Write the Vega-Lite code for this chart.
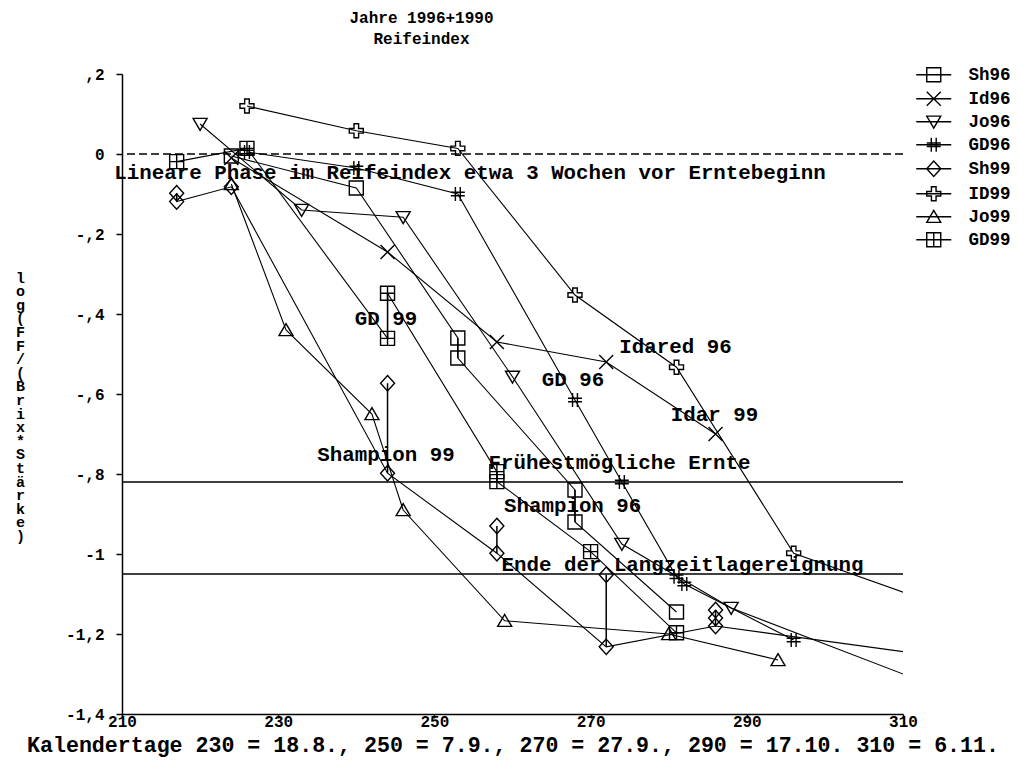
{
  "$schema": "https://vega.github.io/schema/vega-lite/v6.json",
  "width": 781,
  "height": 640,
  "autosize": {"type": "none"},
  "padding": {"left": 122, "top": 74, "right": 116, "bottom": 48},
  "background": "white",
  "title": {"text": ["Jahre 1996+1990", "Reifeindex"], "font": "Liberation Mono", "fontSize": 16, "fontWeight": "bold", "color": "black", "anchor": "middle", "dx": -91, "offset": 19, "lineHeight": 21},
  "config": {
    "view": {"stroke": null},
    "axis": {"grid": false, "domainColor": "black", "domainWidth": 1.5, "tickColor": "black", "tickWidth": 1.5, "labelColor": "black", "titleColor": "black", "labelFont": "Liberation Mono", "labelFontWeight": "bold", "labelFontSize": 16, "titleFont": "Liberation Mono", "titleFontWeight": "bold"}
  },
  "resolve": {"scale": {"shape": "independent"}, "legend": {"shape": "independent"}},
  "datasets": {
    "pts": [
      {"s": "Sh96", "d": 224, "v": -0.005, "o": 1, "m": 1},
      {"s": "Sh96", "d": 240, "v": -0.085, "o": 2, "m": 1},
      {"s": "Sh96", "d": 253, "v": -0.46, "o": 3, "m": 1},
      {"s": "Sh96", "d": 253, "v": -0.51, "o": 4, "m": 1},
      {"s": "Sh96", "d": 268, "v": -0.84, "o": 5, "m": 1},
      {"s": "Sh96", "d": 268, "v": -0.92, "o": 6, "m": 1},
      {"s": "Sh96", "d": 281, "v": -1.145, "o": 7, "m": 1},
      {"s": "Id96", "d": 224, "v": -0.01, "o": 1, "m": 1},
      {"s": "Id96", "d": 244, "v": -0.245, "o": 2, "m": 1},
      {"s": "Id96", "d": 258, "v": -0.47, "o": 3, "m": 1},
      {"s": "Id96", "d": 272, "v": -0.52, "o": 4, "m": 1},
      {"s": "Id96", "d": 286, "v": -0.70, "o": 5, "m": 1},
      {"s": "Jo96", "d": 220, "v": 0.075, "o": 1, "m": 1},
      {"s": "Jo96", "d": 233, "v": -0.14, "o": 2, "m": 1},
      {"s": "Jo96", "d": 246, "v": -0.158, "o": 3, "m": 1},
      {"s": "Jo96", "d": 260, "v": -0.557, "o": 4, "m": 1},
      {"s": "Jo96", "d": 274, "v": -0.975, "o": 5, "m": 1},
      {"s": "Jo96", "d": 288, "v": -1.135, "o": 6, "m": 1},
      {"s": "Jo96", "d": 316, "v": -1.345, "o": 7, "m": 1},
      {"s": "GD96", "d": 226, "v": 0.005, "o": 1, "m": 1},
      {"s": "GD96", "d": 240, "v": -0.035, "o": 2, "m": 1},
      {"s": "GD96", "d": 253, "v": -0.10, "o": 3, "m": 1},
      {"s": "GD96", "d": 268, "v": -0.615, "o": 4, "m": 1},
      {"s": "GD96", "d": 274, "v": -0.82, "o": 5, "m": 1},
      {"s": "GD96", "d": 281, "v": -1.057, "o": 6, "m": 1},
      {"s": "GD96", "d": 282, "v": -1.075, "o": 7, "m": 1},
      {"s": "GD96", "d": 296, "v": -1.215, "o": 8, "m": 1},
      {"s": "Sh99", "d": 217, "v": -0.098, "o": 1, "m": 1},
      {"s": "Sh99", "d": 217, "v": -0.119, "o": 2, "m": 1},
      {"s": "Sh99", "d": 224, "v": -0.082, "o": 3, "m": 1},
      {"s": "Sh99", "d": 244, "v": -0.573, "o": 4, "m": 0},
      {"s": "Sh99", "d": 244, "v": -0.798, "o": 5, "m": 1},
      {"s": "Sh99", "d": 258, "v": -0.93, "o": 6, "m": 0},
      {"s": "Sh99", "d": 258, "v": -0.998, "o": 7, "m": 1},
      {"s": "Sh99", "d": 272, "v": -1.052, "o": 8, "m": 0},
      {"s": "Sh99", "d": 272, "v": -1.232, "o": 9, "m": 1},
      {"s": "Sh99", "d": 286, "v": -1.14, "o": 10, "m": 0},
      {"s": "Sh99", "d": 286, "v": -1.16, "o": 11, "m": 0},
      {"s": "Sh99", "d": 286, "v": -1.18, "o": 12, "m": 1},
      {"s": "Sh99", "d": 316, "v": -1.26, "o": 13, "m": 1},
      {"s": "ID99", "d": 226, "v": 0.12, "o": 1, "m": 1},
      {"s": "ID99", "d": 240, "v": 0.058, "o": 2, "m": 1},
      {"s": "ID99", "d": 253, "v": 0.014, "o": 3, "m": 1},
      {"s": "ID99", "d": 268, "v": -0.3525, "o": 4, "m": 1},
      {"s": "ID99", "d": 281, "v": -0.533, "o": 5, "m": 1},
      {"s": "ID99", "d": 296, "v": -0.998, "o": 6, "m": 1},
      {"s": "ID99", "d": 316, "v": -1.137, "o": 7, "m": 1},
      {"s": "Jo99", "d": 224, "v": -0.075, "o": 1, "m": 1},
      {"s": "Jo99", "d": 231, "v": -0.44, "o": 2, "m": 1},
      {"s": "Jo99", "d": 242, "v": -0.65, "o": 3, "m": 1},
      {"s": "Jo99", "d": 246, "v": -0.89, "o": 4, "m": 1},
      {"s": "Jo99", "d": 259, "v": -1.167, "o": 5, "m": 1},
      {"s": "Jo99", "d": 280, "v": -1.2, "o": 6, "m": 1},
      {"s": "Jo99", "d": 294, "v": -1.265, "o": 7, "m": 1},
      {"s": "GD99", "d": 217, "v": -0.019, "o": 1, "m": 1},
      {"s": "GD99", "d": 226, "v": 0.014, "o": 2, "m": 1},
      {"s": "GD99", "d": 244, "v": -0.461, "o": 3, "m": 1},
      {"s": "GD99", "d": 244, "v": -0.348, "o": 4, "m": 1},
      {"s": "GD99", "d": 258, "v": -0.794, "o": 5, "m": 1},
      {"s": "GD99", "d": 258, "v": -0.819, "o": 6, "m": 1},
      {"s": "GD99", "d": 270, "v": -0.994, "o": 7, "m": 1},
      {"s": "GD99", "d": 281, "v": -1.197, "o": 8, "m": 1}
    ],
    "refs": [
      {"y": -0.82, "k": "solid"},
      {"y": -1.05, "k": "solid"},
      {"y": 0, "k": "dash"}
    ],
    "notes": [
      {"d": 254.56, "v": -0.0475, "t": "Lineare Phase im Reifeindex etwa 3 Wochen vor Erntebeginn"},
      {"d": 243.8, "v": -0.4125, "t": "GD 99"},
      {"d": 280.87, "v": -0.4825, "t": "Idared 96"},
      {"d": 267.75, "v": -0.565, "t": "GD 96"},
      {"d": 285.86, "v": -0.6525, "t": "Idar 99"},
      {"d": 243.8, "v": -0.7525, "t": "Shampion 99"},
      {"d": 273.7, "v": -0.7725, "t": "Frühestmögliche Ernte"},
      {"d": 267.7, "v": -0.88, "t": "Shampion 96"},
      {"d": 281.77, "v": -1.0275, "t": "Ende der Langzeitlagereignung"}
    ]
  },
  "layer": [
    {
      "data": {"name": "refs"},
      "transform": [{"filter": "datum.k == 'solid'"}],
      "mark": {"type": "rule", "color": "black", "strokeWidth": 1.5},
      "encoding": {
        "y": {"field": "y", "type": "quantitative",
          "scale": {"domain": [-1.4, 0.2], "nice": false, "zero": false},
          "axis": {"values": [-1.4, -1.2, -1, -0.8, -0.6, -0.4, -0.2, 0, 0.2],
            "labelExpr": "datum.value == 0 ? '0' : (datum.value < 0 ? '-' : '') + replace(replace(toString(abs(round(datum.value*10)/10)), '0.', ','), '.', ',')",
            "tickSize": 6, "labelPadding": 12, "labelFlush": false,
            "title": ["l","o","g","(","F","F","/","(","B","r","i","x","*"," ","S","t","ä","r","k","e",")"],
            "titleAngle": 0, "titleX": -102, "titleY": 196, "titleBaseline": "top", "titleAlign": "center", "titleFontSize": 15, "titleLineHeight": 13.6}
        }
      }
    },
    {
      "data": {"name": "refs"},
      "transform": [{"filter": "datum.k == 'dash'"}],
      "mark": {"type": "rule", "color": "black", "strokeWidth": 1.3, "strokeDash": [8, 4]},
      "encoding": {"y": {"field": "y", "type": "quantitative"}}
    },
    {
      "data": {"name": "pts"},
      "transform": [{"filter": "datum.m == 1"}],
      "mark": {"type": "line", "color": "black", "strokeWidth": 1.1, "clip": true},
      "encoding": {
        "x": {"field": "d", "type": "quantitative",
          "scale": {"domain": [210, 310], "nice": false, "zero": false},
          "axis": {"values": [210, 230, 250, 270, 290, 310], "format": "d", "tickSize": 4, "labelPadding": 3, "labelBaseline": "middle", "labelFlush": false,
            "title": "Kalendertage 230 = 18.8., 250 = 7.9., 270 = 27.9., 290 = 17.10. 310 = 6.11.",
            "titleFontSize": 21.6, "titleY": 20, "titleBaseline": "top"}},
        "y": {"field": "v", "type": "quantitative"},
        "detail": {"field": "s"},
        "order": {"field": "o", "type": "quantitative"}
      }
    },
    {
      "data": {"name": "pts"},
      "transform": [{"aggregate": [{"op": "min", "field": "v", "as": "lo"}, {"op": "max", "field": "v", "as": "hi"}], "groupby": ["s", "d"]}],
      "mark": {"type": "rule", "color": "black", "strokeWidth": 1.5, "clip": true},
      "encoding": {
        "x": {"field": "d", "type": "quantitative"},
        "y": {"field": "lo", "type": "quantitative"},
        "y2": {"field": "hi"}
      }
    },
    {
      "data": {"name": "pts"},
      "mark": {"type": "point", "filled": false, "color": "black", "strokeWidth": 1.4, "size": 196, "clip": true, "opacity": 1},
      "encoding": {
        "x": {"field": "d", "type": "quantitative"},
        "y": {"field": "v", "type": "quantitative"},
        "shape": {"field": "s", "type": "nominal",
          "scale": {"domain": ["Sh96", "Id96", "Jo96", "GD96", "Sh99", "ID99", "Jo99", "GD99"],
            "range": [
              "M-1,-1H1V1H-1Z",
              "M-1,-1L1,1M-1,1L1,-1",
              "M-1,-0.8H1L0,0.9Z",
              "M-0.35,-1V1M0.35,-1V1M-1,-0.25H1M-1,0.25H1",
              "M0,-1.1L1,0L0,1.1L-1,0Z",
              "M-0.33,-1H0.33V-0.33H1V0.33H0.33V1H-0.33V0.33H-1V-0.33H-0.33Z",
              "M0,-0.9L1,0.8H-1Z",
              "M-1,-1H1V1H-1ZM0,-1V1M-1,0H1"
            ]},
          "legend": null
        }
      }
    },
    {
      "data": {"name": "pts"},
      "transform": [{"filter": "datum.m > 5"}],
      "mark": {"type": "point", "filled": false, "color": "black", "strokeWidth": 1.4, "size": 196, "opacity": 1},
      "encoding": {
        "shape": {"field": "s", "type": "nominal",
          "scale": {"domain": ["Sh96", "Id96", "Jo96", "GD96", "Sh99", "ID99", "Jo99", "GD99"],
            "range": [
              "M-1,-1H1V1H-1ZM-2.5,0H2.5",
              "M-1,-1L1,1M-1,1L1,-1M-2.5,0H2.5",
              "M-1,-0.8H1L0,0.9ZM-2.5,0H2.5",
              "M-0.35,-1V1M0.35,-1V1M-1,-0.25H1M-1,0.25H1M-2.5,0H2.5",
              "M0,-1.1L1,0L0,1.1L-1,0ZM-2.5,0H2.5",
              "M-0.33,-1H0.33V-0.33H1V0.33H0.33V1H-0.33V0.33H-1V-0.33H-0.33ZM-2.5,0H2.5",
              "M0,-0.9L1,0.8H-1ZM-2.5,0H2.5",
              "M-1,-1H1V1H-1ZM0,-1V1M-1,0H1M-2.5,0H2.5"
            ]},
          "legend": {"orient": "none", "legendX": 803, "legendY": -8, "title": null, "padding": 0,
            "labelFont": "Liberation Mono", "labelFontSize": 17.5, "labelFontWeight": "bold", "labelColor": "black",
            "rowPadding": 3, "symbolSize": 196, "symbolStrokeColor": "black", "symbolStrokeWidth": 1.4, "symbolOpacity": 1, "labelOffset": 26}
        }
      }
    },
    {
      "data": {"name": "notes"},
      "mark": {"type": "text", "font": "Liberation Mono", "fontSize": 20.8, "fontWeight": "bold", "color": "black", "align": "center", "baseline": "middle"},
      "encoding": {
        "x": {"field": "d", "type": "quantitative"},
        "y": {"field": "v", "type": "quantitative"},
        "text": {"field": "t"}
      }
    }
  ]
}
